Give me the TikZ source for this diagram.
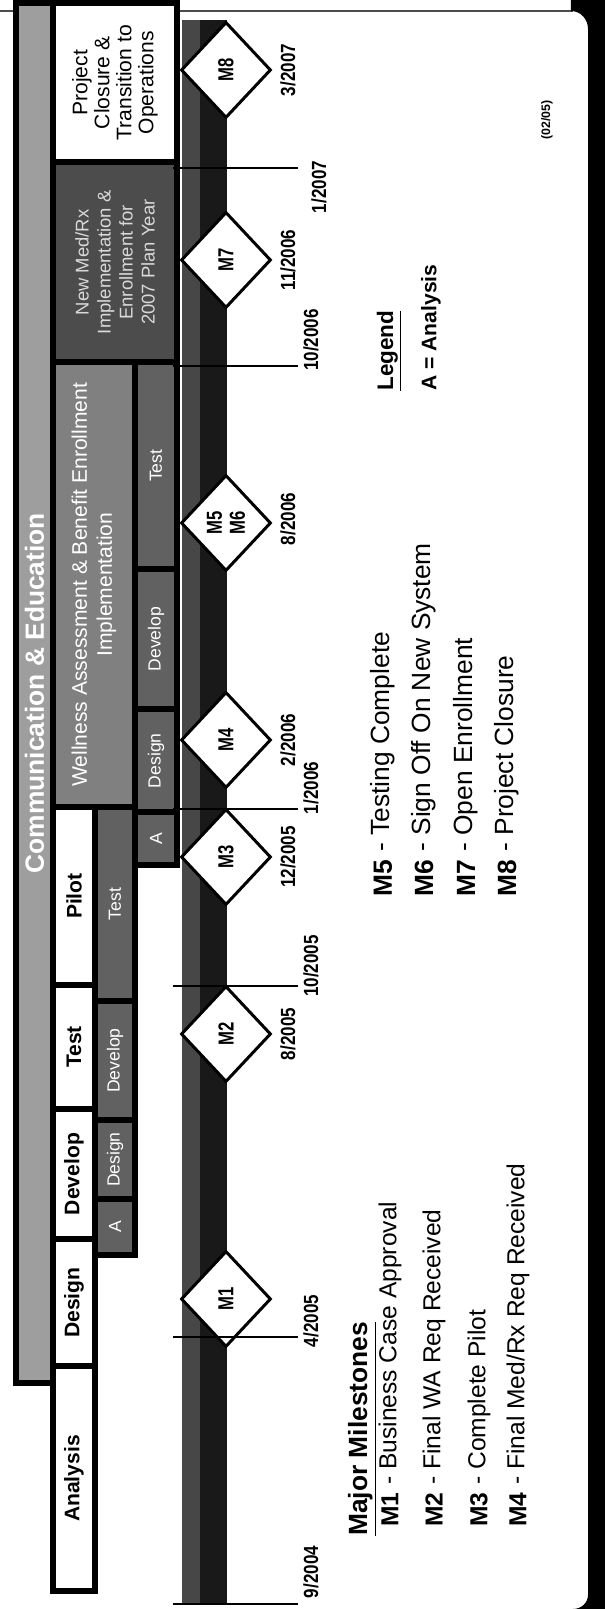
\documentclass[tikz,border=0pt]{standalone}
\usepackage{fontspec}
\setmainfont{Liberation Sans}
\usetikzlibrary{calc,shapes.geometric}
\definecolor{commgray}{gray}{0.62}
\definecolor{wellgray}{gray}{0.5}
\definecolor{subgray}{gray}{0.38}
\definecolor{medgray}{gray}{0.3}

\begin{document}
\begin{tikzpicture}[x=0.02cm,y=0.02cm,rotate=90,transform shape,
    BX/.style={draw=black,line width=3.6pt,rectangle,inner sep=0pt,outer sep=0pt,align=center},
    PH/.style={BX,fill=white,minimum height=0.84cm,font=\fontsize{12}{14}\selectfont\bfseries},
    SB/.style={BX,fill=subgray,minimum height=0.8cm,text=white,font=\fontsize{10}{12}\selectfont},
    MS/.style={diamond,draw=black,line width=1.7pt,fill=white,inner sep=0pt,minimum width=1.92cm,minimum height=1.8cm},
    ML/.style={font=\fontsize{9.5}{10}\selectfont\bfseries,yscale=1.3,align=center,inner sep=0pt},
    DT/.style={font=\fontsize{9.7}{11}\selectfont\bfseries,yscale=1.2,inner sep=0pt},
    TK/.style={line width=1.1pt},
    LI/.style={anchor=west,inner sep=0pt,font=\fontsize{15}{17}\selectfont}]
    \useasboundingbox (0,0) rectangle (1609,605);
    % frame of the page
    \draw[line width=0.8pt,black!70] (1598,605) -- (1598,32);
    \fill[black] (0,0) rectangle (1609,17);
    \fill[black] (1609,17) -- (1609,34) -- (1598,34) to[out=-90,in=0] (1580,17) -- cycle;
    \fill[black] (0,17) -- (0,32) to[out=-90,in=180] (14,17) -- cycle;
    % phases
    \node[PH,anchor=south west,minimum width=4.5cm] (analysis) at (18,510) {Analysis};
    \node[PH,anchor=south west,minimum width=2.54cm] (design) at (analysis.south east) {Design};
    \node[PH,anchor=south west,minimum width=2.6cm] (develop) at (design.south east) {Develop};
    \node[PH,anchor=south west,minimum width=2.48cm] (test) at (develop.south east) {Test};
    \node[PH,anchor=south west,minimum width=3.56cm] (pilot) at (test.south east) {Pilot};
    % Wellness block
    \node[BX,fill=wellgray,anchor=north west,minimum width=8.9cm,minimum height=1.64cm,text=white,
        font=\fontsize{12}{14.2}\selectfont] (wellness) at (pilot.north east)
        {Wellness Assessment \& Benefit Enrollment\\Implementation};
    % New medical block
    \node[BX,fill=medgray,anchor=north west,minimum width=4cm,minimum height=2.48cm,text=black!15,
        font=\fontsize{10.5}{12.5}\selectfont] (newmed) at (wellness.north east)
        {New Med/Rx\\Implementation \&\\Enrollment for\\2007 Plan Year};
    % closure
    \node[BX,fill=white,anchor=north west,minimum width=3.18cm,minimum height=2.48cm,
        font=\fontsize{12}{12.5}\selectfont] (closure) at (newmed.north east)
        {Project\\Closure \&\\Transition to\\Operations};
    % communication bar on top
    \node[BX,fill=commgray,anchor=south east,minimum width=27.6cm,minimum height=0.74cm,text=white,
        font=\fontsize{15}{17}\selectfont\bfseries] (comm) at (closure.north east) {Communication \& Education};
    % sub steps under Develop / Test / Pilot
    \node[SB,anchor=north east,minimum width=3.88cm] (test1) at (pilot.south east) {Test};
    \node[SB,anchor=north east,minimum width=2.38cm] (develop1) at (test1.north west) {Develop};
    \node[SB,anchor=north east,minimum width=1.58cm] (design1) at (develop1.north west) {Design};
    \node[SB,anchor=north east,minimum width=1.12cm] (a1) at (design1.north west) {A};
    % sub steps under Wellness
    \node[SB,anchor=north east,minimum width=4.14cm,minimum height=0.84cm] (test2) at (wellness.south east) {Test};
    \node[SB,anchor=north east,minimum width=2.8cm,minimum height=0.84cm] (develop2) at (test2.north west) {Develop};
    \node[SB,anchor=north east,minimum width=2.06cm,minimum height=0.84cm] (design2) at (develop2.north west) {Design};
    \node[SB,anchor=north east,minimum width=1.06cm,minimum height=0.84cm] (a2) at (design2.north west) {A};
    % time line
    \node[anchor=south west,inner sep=0pt,outer sep=0pt,minimum width=31.68cm,minimum height=0.9cm,
        fill=black!90] (band) at (5,378) {};
    \node[anchor=north west,inner sep=0pt,outer sep=0pt,minimum width=31.68cm,minimum height=0.36cm,
        fill=black!72] (bandlite) at (band.north west) {};
    % milestones
    \foreach \n/\X in {1/310,2/575,3/752,4/869,7/1349,8/1539}{
        \node[MS] (m\n) at (\X,379) {};
        \node[ML] (ml\n) at (m\n) {M\n};
    }
    \node[MS] (m56) at (1086,379) {};
    \node[ML] (ml56) at (m56) {M5\\M6};
    \foreach \n/\X/\mo/\yr in {2/575/8/2005,3/752/12/2005,4/869/2/2006,56/1090/8/2006,7/1349/11/2006,8/1539/3/2007}
        \node[DT] (md\n) at (\X,317) {\mo/\yr};
    % ticks
    \foreach \X/\mo/\yr/\lx/\ly in {5/9/2004/37/294,272/4/2005/288/294,623/10/2005/643/294,
        800/1/2006/821/294,1243/10/2006/1269/294,1441/1/2007/1422/286}{
        \coordinate (tk\X) at (\X,432);
        \draw[TK] (tk\X) -- ++(0,-125);
        \node[DT] (tl\X) at (\lx,\ly) {\mo/\yr};
    }
    % list of milestones
    \node[LI,font=\fontsize{15}{17}\selectfont\bfseries] (mmhead) at (73,243) {\underline{Major Milestones}};
    \foreach \k/\Y/\txt in {1/215/{Business Case Approval},2/171/{Final WA Req Received},
        3/126/{Complete Pilot},4/87/{Final Med/Rx Req Received}}{
        \node[LI,font=\fontsize{14}{16}\selectfont\bfseries] (mk\k) at (82,\Y) {M\k};
        \node[LI,font=\fontsize{14}{16}\selectfont] (mt\k) at (124,\Y) {- \txt};
    }
    \foreach \k/\Y/\txt in {5/222/{Testing Complete},6/181/{Sign Off On New System},
        7/139/{Open Enrollment},8/98/{Project Closure}}{
        \node[LI,font=\fontsize{15}{17}\selectfont\bfseries] (mk\k) at (712,\Y) {M\k};
        \node[LI] (mt\k) at (757,\Y) {- \txt};
    }
    % legend
    \node[LI,font=\fontsize{12.8}{15}\selectfont\bfseries] (leghead) at (1218,216) {\underline{Legend}};
    \node[LI,font=\fontsize{12}{14}\selectfont\bfseries] (legA) at (1218,174) {A = Analysis};
    \node[LI,font=\fontsize{7}{8}\selectfont\bfseries] (rev) at (1469,58) {(02/05)};
\end{tikzpicture}
\end{document}
